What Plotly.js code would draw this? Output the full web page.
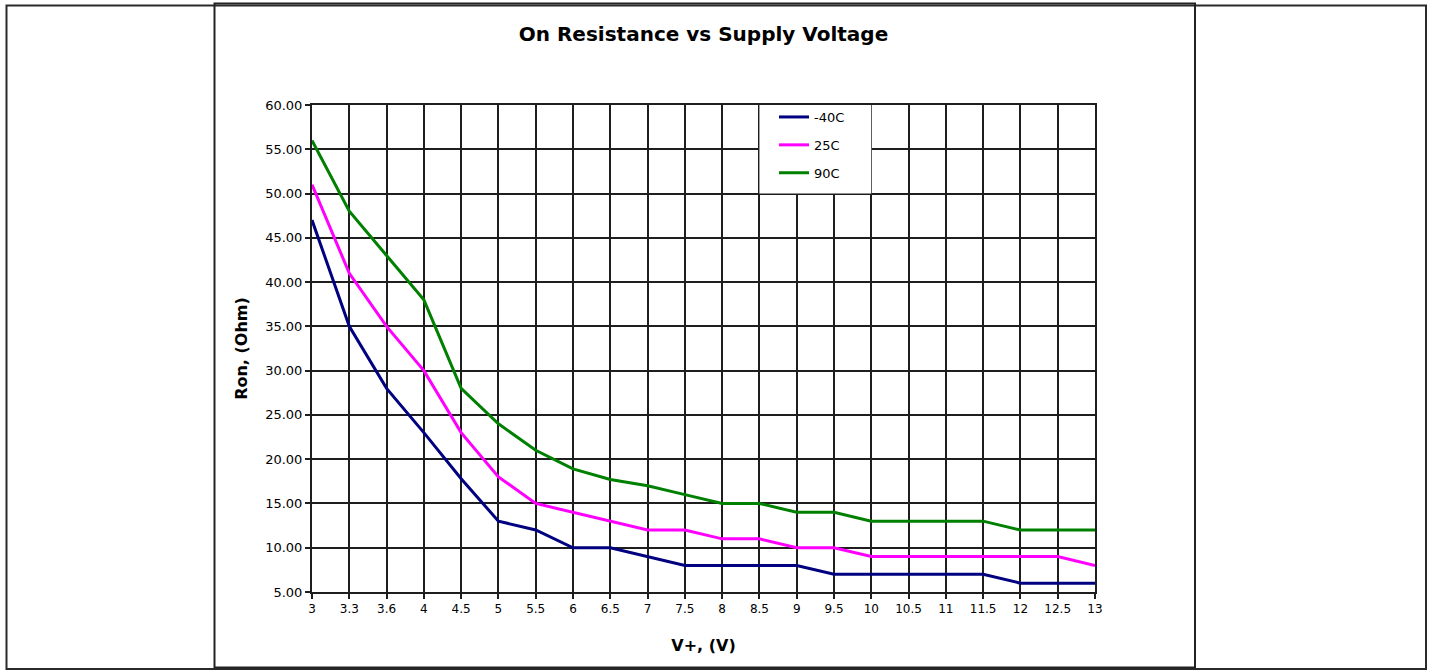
<!DOCTYPE html>
<html>
<head>
<meta charset="utf-8">
<script src="https://cdn.plot.ly/plotly-3.0.1.min.js"></script>
<style>
  html, body { margin: 0; padding: 0; background: #ffffff; }
  #chart { width: 1432px; height: 671px; }
</style>
</head>
<body>
<div id="chart"></div>
<script>
// ---- data ----
const categories = ['3','3.3','3.6','4','4.5','5','5.5','6','6.5','7','7.5','8','8.5','9','9.5','10','10.5','11','11.5','12','12.5','13'];
const ronMinus40 = [47,35,28,23,17.8,13,12,10,10,9,8,8,8,8,7,7,7,7,7,6,6,6];
const ron25 = [51,41,35,30,23,18,15,14,13,12,12,11,11,10,10,9,9,9,9,9,9,8];
const ron90 = [56,48,43,38,28,24,21,18.9,17.7,17,16,15,15,14,14,13,13,13,13,12,12,12];
const seriesNames = ['-40C','25C','90C'];
const yTickVals = [5,10,15,20,25,30,35,40,45,50,55,60];

// ---- layout geometry (pixels) ----
const W = 1432, H = 671;
const PL = 312, PR = 1095, PT = 105, PB = 592;
const pw = PR - PL, ph = PB - PT;
const xp = px => (px - PL) / pw;
const yp = py => (PB - py) / ph;

const font = 'DejaVu Sans, Verdana, sans-serif';

const traces = [
  {x: categories, y: ronMinus40, name: seriesNames[0], color: '#000080', group: 'a'},
  {x: categories, y: ron25, name: seriesNames[1], color: '#FF00FF', group: 'b'},
  {x: categories, y: ron90, name: seriesNames[2], color: '#008000', group: 'c'}
].map(s => ({
  type: 'scatter', mode: 'lines', x: s.x, y: s.y, name: s.name,
  legendgroup: s.group,
  line: {color: s.color, width: 3},
  hoverinfo: 'skip'
}));

function rect(x0, y0, x1, y1, color, width) {
  return {type: 'rect', xref: 'paper', yref: 'paper',
    x0: xp(x0), x1: xp(x1), y0: yp(y1), y1: yp(y0),
    line: {color: color, width: width}, fillcolor: 'rgba(0,0,0,0)', layer: 'above'};
}

const shapes = [
  // legend background (covers grid)
  {type: 'rect', xref: 'paper', yref: 'paper', x0: 12/21, x1: 15/21, y0: 45/55, y1: 1,
   fillcolor: '#ffffff', line: {width: 0}, layer: 'above'},
  // outer page frame
  rect(6.5, 5.5, 1426, 669, '#2a2a2a', 2),
  // chart box
  rect(214.5, 3.5, 1195, 667.5, '#222222', 2)
];

const gridC = '#1e1e1e';

const layout = {
  width: W, height: H,
  margin: {l: PL, r: W - PR, t: PT, b: H - PB, pad: 0},
  paper_bgcolor: '#ffffff', plot_bgcolor: '#ffffff',
  showlegend: true,
  title: {
    text: 'On Resistance vs Supply Voltage',
    font: {family: font, size: 20, color: '#000000', weight: 'bold'},
    x: 0.5, xref: 'paper', xanchor: 'center',
    y: 1 - 34 / H, yref: 'container', yanchor: 'middle'
  },
  xaxis: {
    type: 'category',
    categoryorder: 'array', categoryarray: categories,
    range: [0, categories.length - 1],
    showgrid: true, gridcolor: gridC, gridwidth: 2,
    showline: true, linecolor: gridC, linewidth: 2, mirror: true,
    ticks: 'outside', ticklen: 5, tickcolor: gridC, tickwidth: 2,
    tickfont: {family: font, size: 12, color: '#000000'},
    title: {text: 'V+, (V)', font: {family: font, size: 16, color: '#000000', weight: 'bold'}, standoff: 24},
    fixedrange: true, zeroline: false
  },
  yaxis: {
    range: [5, 60],
    tickvals: yTickVals, tickformat: '.2f',
    showgrid: true, gridcolor: gridC, gridwidth: 2,
    showline: true, linecolor: gridC, linewidth: 2, mirror: true,
    ticks: 'outside', ticklen: 5, tickcolor: gridC, tickwidth: 2,
    tickfont: {family: font, size: 13, color: '#000000'},
    title: {text: 'Ron, (Ohm)', font: {family: font, size: 16, color: '#000000', weight: 'bold'}, standoff: 14},
    fixedrange: true, zeroline: false
  },
  legend: {
    x: xp(774), xanchor: 'left', y: yp(102), yanchor: 'top',
    bgcolor: 'rgba(0,0,0,0)', borderwidth: 0,
    font: {family: font, size: 13, color: '#000000'},
    tracegroupgap: 8, traceorder: 'grouped'
  },
  shapes: shapes
};

Plotly.newPlot('chart', traces, layout, {displayModeBar: false, staticPlot: true});
</script>
</body>
</html>
